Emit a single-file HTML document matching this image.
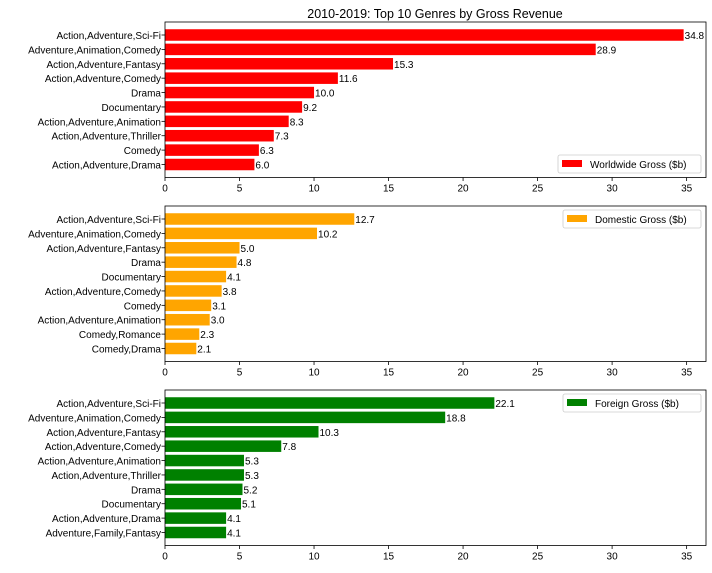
<!DOCTYPE html>
<html><head><meta charset="utf-8"><style>
body{margin:0;background:#fff;}
svg{font-family:"Liberation Sans","DejaVu Sans",sans-serif;}
</style></head><body>
<svg id="c" width="712" height="568"></svg>
<script>
const titleText="2010-2019: Top 10 Genres by Gross Revenue";
const cats1=["Action,Adventure,Sci-Fi","Adventure,Animation,Comedy","Action,Adventure,Fantasy","Action,Adventure,Comedy","Drama","Documentary","Action,Adventure,Animation","Action,Adventure,Thriller","Comedy","Action,Adventure,Drama"];
const vals1=[34.8,28.9,15.3,11.6,10.0,9.2,8.3,7.3,6.3,6.0];
const cats2=["Action,Adventure,Sci-Fi","Adventure,Animation,Comedy","Action,Adventure,Fantasy","Drama","Documentary","Action,Adventure,Comedy","Comedy","Action,Adventure,Animation","Comedy,Romance","Comedy,Drama"];
const vals2=[12.7,10.2,5.0,4.8,4.1,3.8,3.1,3.0,2.3,2.1];
const cats3=["Action,Adventure,Sci-Fi","Adventure,Animation,Comedy","Action,Adventure,Fantasy","Action,Adventure,Comedy","Action,Adventure,Animation","Action,Adventure,Thriller","Drama","Documentary","Action,Adventure,Drama","Adventure,Family,Fantasy"];
const vals3=[22.1,18.8,10.3,7.8,5.3,5.3,5.2,5.1,4.1,4.1];
const xTicks=[0,5,10,15,20,25,30,35];
const legends=["Worldwide Gross ($b)","Domestic Gross ($b)","Foreign Gross ($b)"];
const colors=["#ff0000","#ffa500","#008000"];

const svg=document.getElementById('c');
const NS="http://www.w3.org/2000/svg";
function mk(t,a,txt){const e=document.createElementNS(NS,t);for(const k in a)e.setAttribute(k,a[k]);if(txt!==undefined)e.textContent=txt;svg.appendChild(e);return e;}
const L=165,R=706,xmax=36.3;
const x=v=>L+v*(R-L)/xmax;
const t=mk('text',{x:435,y:18,'text-anchor':'middle','font-size':12.5},titleText);

const panels=[{cats:cats1,vals:vals1,top:22,leg:'bottom'},{cats:cats2,vals:vals2,top:206,leg:'top'},{cats:cats3,vals:vals3,top:390,leg:'top'}];
panels.forEach((p,pi)=>{
  const T=p.top,B=T+155.5,n=p.cats.length;
  const st=(B-T-26)/(n-1);
  const y=i=>T+13+i*st;
  const bh=0.8*st;
  p.vals.forEach((v,i)=>{
    const r=mk('rect',{x:x(0),y:y(i)-bh/2,width:x(v)-x(0),height:bh,fill:colors[pi]});
    
    const vl=mk('text',{x:x(v)+1,y:y(i)+4,'font-size':10},v.toFixed(1));
    
    const cl=mk('text',{x:L-4,y:y(i)+4,'font-size':10,'text-anchor':'end'},p.cats[i]);
    
    mk('line',{x1:L-3.5,x2:L,y1:y(i),y2:y(i),stroke:'#000','stroke-width':0.8});
  });
  xTicks.forEach(v=>{
    mk('line',{x1:x(v),x2:x(v),y1:B,y2:B+3.5,stroke:'#000','stroke-width':0.8});
    const tl=mk('text',{x:x(v),y:B+14,'font-size':10,'text-anchor':'middle'},v);
    
  });
  const fr=mk('rect',{x:L,y:T,width:R-L,height:B-T,fill:'none',stroke:'#000','stroke-width':0.8});
  
  const lw=pi==0?143:138, ly=p.leg=='bottom'?B-22.5:T+4, lx=R-5-lw;
  const g=mk('rect',{x:lx,y:ly,width:lw,height:18,rx:2,fill:'#fff',stroke:'#ccc','stroke-width':0.8});
  
  mk('rect',{x:lx+4,y:ly+5,width:20,height:7,fill:colors[pi]});
  const lt=mk('text',{x:lx+32,y:ly+13,'font-size':10},legends[pi]);
  
});
</script>
</body></html>
